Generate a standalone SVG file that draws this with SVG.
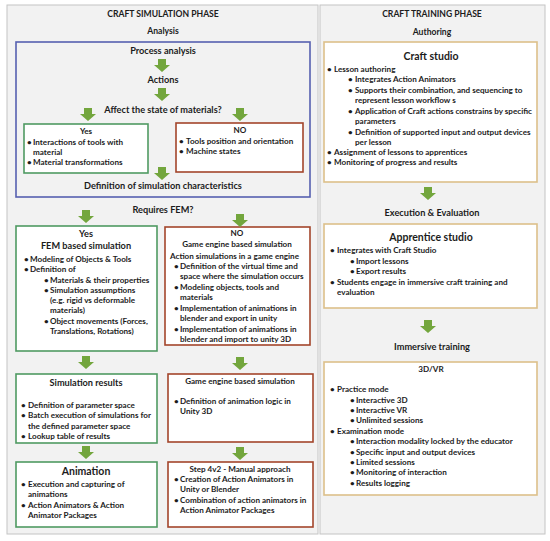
<svg xmlns="http://www.w3.org/2000/svg" xmlns:xlink="http://www.w3.org/1999/xlink" width="550" height="541" viewBox="0 0 550 541">
<style>
text{font-family:Lato,"Liberation Sans",sans-serif;font-weight:bold;fill:#1c1c1c;font-size:8.1px}
.h{font-size:8.6px;text-anchor:middle}
.t{font-size:9.2px;text-anchor:middle}
.T{font-size:10.5px;text-anchor:middle}
.c{text-anchor:middle}
.box{fill:#ffffff;stroke-width:1.6}
.g{stroke:#4f9a62}
.r{stroke:#a3452b}
.o{stroke:#dcc08a}
.b{fill:none;stroke:#5660b0;stroke-width:1.6}
</style>
<defs>
<path id="ga" d="M-4,0H4V6H8L0,13L-8,6H-4Z" fill="#73a63d"/>
</defs>
<rect x="0" y="0" width="550" height="541" fill="#ffffff"/>
<g id="panels">
<rect x="7" y="5" width="311" height="529" fill="#f2f2f2" stroke="#c4c4c4" stroke-width="1"/>
<rect x="320" y="5" width="225" height="529" fill="#f2f2f2" stroke="#c4c4c4" stroke-width="1"/>
<text class="h" x="163" y="17">CRAFT SIMULATION PHASE</text>
<text class="h" x="163" y="34">Analysis</text>
<text class="h" x="432" y="17">CRAFT TRAINING PHASE</text>
<text class="h" x="432" y="35">Authoring</text>
</g>
<g id="analysis">
<rect x="16" y="42" width="294" height="155" fill="#ffffff" class="b"/>
<text class="t" x="163" y="54">Process analysis</text>
<text class="t" x="163" y="83">Actions</text>
<text class="t" x="163" y="113">Affect the state of materials?</text>
<text class="t" x="163" y="189">Definition of simulation characteristics</text>
</g>
<g id="yes1">
<rect x="24" y="124" width="124" height="49" class="box g"/>
<text class="c" x="86" y="134">Yes</text>
<text x="27" y="145">•<tspan x="33">Interactions of tools with</tspan></text>
<text x="33" y="155">material</text>
<text x="27" y="165">•<tspan x="33">Material transformations</tspan></text>
</g>
<g id="no1">
<rect x="176" y="123" width="127" height="49" class="box r"/>
<text class="c" x="240" y="133">NO</text>
<text x="179" y="144">•<tspan x="186">Tools position and orientation</tspan></text>
<text x="179" y="154">•<tspan x="186">Machine states</tspan></text>
</g>
<text class="t" x="163" y="213">Requires FEM?</text>
<g id="fem">
<rect x="16" y="226" width="141" height="125" class="box g"/>
<text class="t" x="86" y="237">Yes</text>
<text class="t" x="86" y="249">FEM based simulation</text>
<text x="24" y="262">•<tspan x="30">Modeling of Objects &amp; Tools</tspan></text>
<text x="24" y="272">•<tspan x="30">Definition of</tspan></text>
<text x="44" y="283">•<tspan x="50">Materials &amp; their properties</tspan></text>
<text x="44" y="293">•<tspan x="50">Simulation assumptions</tspan></text>
<text x="50" y="303">(e.g. rigid vs deformable</text>
<text x="50" y="313">materials)</text>
<text x="44" y="324">•<tspan x="50">Object movements (Forces,</tspan></text>
<text x="50" y="334">Translations,  Rotations)</text>
</g>
<g id="game1">
<rect x="165" y="227" width="145" height="118" class="box r"/>
<text class="c" x="237" y="236">NO</text>
<text class="c" x="237" y="247">Game engine based simulation</text>
<text x="170" y="259">Action simulations in a game engine</text>
<text x="174" y="269">•<tspan x="180">Definition of the virtual time and</tspan></text>
<text x="180" y="279">space where the simulation occurs</text>
<text x="174" y="290">•<tspan x="180">Modeling objects, tools and</tspan></text>
<text x="180" y="300">materials</text>
<text x="174" y="311">•<tspan x="180">Implementation of animations in</tspan></text>
<text x="180" y="321">blender and export in unity</text>
<text x="174" y="332">•<tspan x="180">Implementation of animations in</tspan></text>
<text x="180" y="342">blender and import to unity 3D</text>
</g>
<g id="simres">
<rect x="16" y="374" width="141" height="69" class="box g"/>
<text class="t" x="86" y="386">Simulation results</text>
<text x="21" y="408">•<tspan x="28">Definition  of parameter space</tspan></text>
<text x="21" y="418">•<tspan x="28">Batch execution of simulations for</tspan></text>
<text x="28" y="429">the defined parameter space</text>
<text x="21" y="439">•<tspan x="28">Lookup table of results</tspan></text>
</g>
<g id="game2">
<rect x="168" y="374" width="145" height="68" class="box r"/>
<text class="c" x="240" y="384">Game engine based simulation</text>
<text x="174" y="404">•<tspan x="180">Definition of animation logic in</tspan></text>
<text x="180" y="414">Unity 3D</text>
</g>
<g id="animation">
<rect x="16" y="462" width="141" height="65" class="box g"/>
<text class="T" x="86" y="475">Animation</text>
<text x="21" y="487">•<tspan x="28">Execution and capturing of</tspan></text>
<text x="28" y="497">animations</text>
<text x="21" y="508">•<tspan x="28">Action Animators &amp; Action</tspan></text>
<text x="28" y="518">Animator Packages</text>
</g>
<g id="step4v2">
<rect x="168" y="462" width="145" height="65" class="box r"/>
<text class="c" x="240" y="472">Step 4v2 - Manual approach</text>
<text x="174" y="482">•<tspan x="180">Creation of Action Animators in</tspan></text>
<text x="180" y="492">Unity or Blender</text>
<text x="174" y="503">•<tspan x="180">Combination of action animators in</tspan></text>
<text x="180" y="513">Action Animator Packages</text>
</g>
<g id="craftstudio">
<rect x="324" y="42" width="213" height="140" class="box o"/>
<text class="T" x="431" y="60">Craft studio</text>
<text x="327" y="72">•<tspan x="334">Lesson authoring</tspan></text>
<text x="348" y="82">•<tspan x="355">Integrates Action Animators</tspan></text>
<text x="348" y="93">•<tspan x="355">Supports their combination, and sequencing to</tspan></text>
<text x="355" y="103">represent lesson workflow s</text>
<text x="348" y="114">•<tspan x="355">Application of Craft actions constrains by specific</tspan></text>
<text x="355" y="124">parameters</text>
<text x="348" y="135">•<tspan x="355">Definition of supported input and output devices</tspan></text>
<text x="355" y="145">per lesson</text>
<text x="327" y="155">•<tspan x="334">Assignment of lessons to apprentices</tspan></text>
<text x="327" y="165">•<tspan x="334">Monitoring of progress and results</tspan></text>
</g>
<text class="t" x="432" y="216">Execution &amp; Evaluation</text>
<g id="apprentice">
<rect x="324" y="224" width="213" height="84" class="box o"/>
<text class="T" x="431" y="241">Apprentice studio</text>
<text x="330" y="253">•<tspan x="337">Integrates with Craft Studio</tspan></text>
<text x="350" y="264">•<tspan x="356">Import lessons</tspan></text>
<text x="350" y="274">•<tspan x="356">Export results</tspan></text>
<text x="330" y="285">•<tspan x="337">Students engage in immersive craft training and</tspan></text>
<text x="337" y="295">evaluation</text>
</g>
<text class="t" x="432" y="350">Immersive training</text>
<g id="vr">
<rect x="324" y="362" width="213" height="133" class="box o"/>
<text class="c" x="431" y="372">3D/VR</text>
<text x="330" y="392">•<tspan x="337">Practice mode</tspan></text>
<text x="350" y="403">•<tspan x="356">Interactive 3D</tspan></text>
<text x="350" y="413">•<tspan x="356">Interactive VR</tspan></text>
<text x="350" y="423">•<tspan x="356">Unlimited sessions</tspan></text>
<text x="330" y="434">•<tspan x="337">Examination mode</tspan></text>
<text x="350" y="444">•<tspan x="356">Interaction modality locked by the educator</tspan></text>
<text x="350" y="455">•<tspan x="356">Specific input and output devices</tspan></text>
<text x="350" y="465">•<tspan x="356">Limited sessions</tspan></text>
<text x="350" y="475">•<tspan x="356">Monitoring of interaction</tspan></text>
<text x="350" y="486">•<tspan x="356">Results logging</tspan></text>
</g>
<g id="connectors">
<use xlink:href="#ga" x="162" y="59"/>
<use xlink:href="#ga" x="162" y="88"/>
<use xlink:href="#ga" x="88" y="108"/>
<use xlink:href="#ga" x="240" y="108"/>
<use xlink:href="#ga" x="162" y="167"/>
<use xlink:href="#ga" x="86" y="210"/>
<use xlink:href="#ga" x="240" y="214"/>
<use xlink:href="#ga" x="86" y="356"/>
<use xlink:href="#ga" x="240" y="357"/>
<use xlink:href="#ga" x="86" y="446"/>
<use xlink:href="#ga" x="240" y="447"/>
<use xlink:href="#ga" x="428" y="187"/>
<use xlink:href="#ga" x="428" y="320"/>
</g>
</svg>
